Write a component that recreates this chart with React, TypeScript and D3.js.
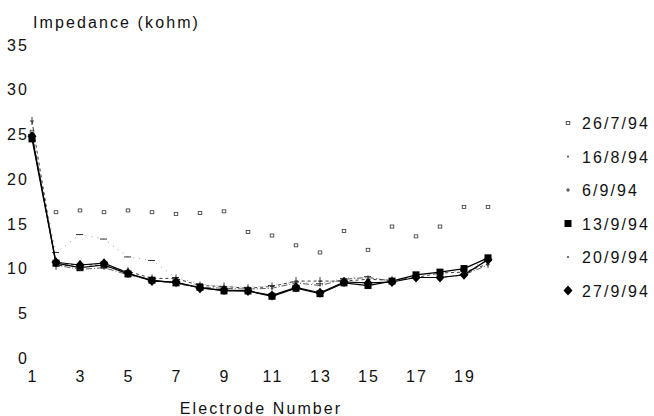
import { useEffect, useRef } from "react";
import * as d3 from "d3";

// electrode numbers along the x axis
const electrodes = [1, 2, 3, 4, 5, 6, 7, 8, 9, 10, 11, 12, 13, 14, 15, 16, 17, 18, 19, 20];
const xTicks = [1, 3, 5, 7, 9, 11, 13, 15, 17, 19];
const yTicks = [0, 5, 10, 15, 20, 25, 30, 35];

// impedance (kohm) per recording date
const jul26 = [25.3, 16.3, 16.5, 16.3, 16.5, 16.3, 16.1, 16.2, 16.4, 14.1, 13.7, 12.6, 11.8, 14.2, 12.1, 14.7, 13.6, 14.7, 16.9, 16.9];
const aug16 = [25.0, 11.8, 13.8, 13.3, 11.3, 10.9, 9.0, 8.3, 8.0, 7.9, 8.1, 8.5, 8.3, 8.9, 9.1, 8.6, 9.2, 9.5, 9.8, 11.0];
const sep6 = [26.5, 10.3, 10.5, 10.3, 9.7, 8.9, 8.9, 8.1, 8.0, 7.8, 8.0, 8.6, 8.6, 8.6, 8.8, 8.7, 9.0, 9.5, 9.6, 10.5];
const sep13 = [24.5, 10.6, 10.1, 10.4, 9.4, 8.7, 8.4, 7.9, 7.5, 7.5, 6.9, 7.8, 7.2, 8.4, 8.1, 8.6, 9.3, 9.6, 10.0, 11.2];
const sep20 = [25.2, 10.4, 9.9, 10.1, 9.3, 8.7, 8.3, 7.9, 7.8, 7.7, 7.8, 8.4, 8.1, 8.8, 9.0, 8.6, 9.0, 9.0, 9.3, 10.4];
const sep27 = [24.8, 10.7, 10.4, 10.6, 9.5, 8.6, 8.5, 7.8, 7.6, 7.5, 7.0, 7.9, 7.3, 8.5, 8.4, 8.5, 9.0, 9.0, 9.3, 11.0];

const labels = ["26/7/94", "16/8/94", "6/9/94", "13/9/94", "20/9/94", "27/9/94"];

const font = "'Liberation Sans', Arial, sans-serif";

export default function App() {
  const ref = useRef<SVGSVGElement>(null);

  useEffect(() => {
    const svg = d3.select(ref.current);
    svg.selectAll("*").remove();

    const x = d3.scaleLinear().domain([1, 20]).range([32, 488]);
    const y = d3.scaleLinear().domain([0, 35]).range([358, 45]);

    const series = [
      { name: labels[0], vals: jul26, line: "none", width: 0, dash: "", marker: "open" },
      { name: labels[1], vals: aug16, line: "#777", width: 0.7, dash: "1 5", marker: "dash" },
      { name: labels[2], vals: sep6, line: "#222", width: 0.9, dash: "3 3", marker: "plus" },
      { name: labels[3], vals: sep13, line: "#000", width: 1.2, dash: "", marker: "square" },
      { name: labels[4], vals: sep20, line: "#333", width: 0.8, dash: "6 2 1 2", marker: "dot" },
      { name: labels[5], vals: sep27, line: "#000", width: 1.2, dash: "", marker: "diamond" },
    ];

    const text = (sel: any) =>
      sel.attr("font-family", font).attr("font-size", 16).attr("letter-spacing", 2.1).attr("fill", "#111");

    // axis titles
    svg.append("text").attr("x", 33).attr("y", 28).text("Impedance (kohm)").call(text);
    svg.append("text").attr("x", 261).attr("y", 414).attr("text-anchor", "middle").text("Electrode Number").call(text);

    // tick labels
    svg.selectAll(".yt").data(yTicks).enter().append("text")
      .attr("x", 29).attr("y", d => y(d)).attr("dy", "0.36em")
      .attr("text-anchor", "end").text(d => d).call(text);
    svg.selectAll(".xt").data(xTicks).enter().append("text")
      .attr("x", d => x(d) + 1).attr("y", 382)
      .attr("text-anchor", "middle").text(d => d).call(text);

    const line = d3.line<number>().x((_, i) => x(electrodes[i])).y(d => y(d));

    const drawMarker = (g: any, kind: string, cx: number, cy: number, legend = false) => {
      if (kind === "square") {
        g.append("rect").attr("x", cx - 3.5).attr("y", cy - 3.5).attr("width", 7).attr("height", 7).attr("fill", "#000");
      } else if (kind === "diamond") {
        g.append("path").attr("d", `M${cx},${cy - 5}L${cx + 4.5},${cy}L${cx},${cy + 5}L${cx - 4.5},${cy}Z`).attr("fill", "#000");
      } else if (kind === "open") {
        g.append("rect").attr("x", cx - 1.8).attr("y", cy - 1.5).attr("width", 3.6).attr("height", 3)
          .attr("fill", "none").attr("stroke", "#333").attr("stroke-width", 0.8);
      } else if (kind === "plus") {
        const h = legend ? 2 : 4;
        g.append("path").attr("d", `M${cx - 2},${cy}H${cx + 2}M${cx},${cy - h}V${cy + h}`)
          .attr("stroke", "#222").attr("stroke-width", 0.9);
      } else if (kind === "dash" && !legend) {
        g.append("path").attr("d", `M${cx - 4},${cy}H${cx + 3}`).attr("stroke", "#333").attr("stroke-width", 1);
      } else {
        g.append("circle").attr("cx", cx).attr("cy", cy).attr("r", 1).attr("fill", "#444");
      }
    };

    series.forEach(s => {
      if (s.line !== "none") {
        svg.append("path").datum(s.vals).attr("d", line)
          .attr("fill", "none").attr("stroke", s.line).attr("stroke-width", s.width)
          .attr("stroke-dasharray", s.dash || null);
      }
      const g = svg.append("g");
      s.vals.forEach((v, i) => drawMarker(g, s.marker, x(electrodes[i]), y(v)));
    });

    // legend
    const lg = svg.append("g");
    series.forEach((s, i) => {
      const cy = 123 + i * 33.5;
      drawMarker(lg, s.marker, 568, cy, true);
      lg.append("text").attr("x", 582).attr("y", cy + 6).text(s.name).call(text);
    });
  }, []);

  return (
    <svg ref={ref} width={654} height={416}
      style={{ position: "absolute", left: 0, top: 0, background: "#fff" }} />
  );
}
